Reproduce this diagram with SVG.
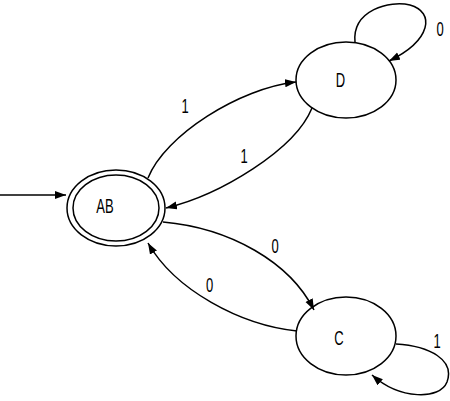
<svg xmlns="http://www.w3.org/2000/svg" width="450" height="401" viewBox="0 0 450 401">
<style>
.st{fill:none;stroke:#000;stroke-width:1.5}
.ed{fill:none;stroke:#000;stroke-width:1.5;marker-end:url(#ah)}
.lb{font-family:"Liberation Sans",Arial,sans-serif;font-size:20px;fill:#000;text-anchor:middle}
</style>
<defs>
<marker id="ah" markerUnits="userSpaceOnUse" markerWidth="12" markerHeight="10" refX="11" refY="4" orient="auto">
<path d="M0,0 L11,4 L0,8 Z" fill="#000"/>
</marker>
</defs>
<rect width="450" height="401" fill="#fff"/>
<g id="connectors">
<path class="ed" d="M0,195 L66,195"/>
<path class="ed" d="M148,178 C165,135 240,88 296,82"/>
<path class="ed" d="M312,108 C295,150 220,195 166,208"/>
<path class="ed" d="M163,222 C230,228 290,262 314,310"/>
<path class="ed" d="M297,331 C240,325 175,290 148,243"/>
<path class="ed" d="M355,42 C352,10 390,0 410,5 C435,12 432,40 389,61"/>
<path class="ed" d="M396,344 C430,346 455,360 447,382 C440,400 400,400 372,375"/>
</g>
<g id="edge-labels">
<text class="lb" transform="translate(185,113) scale(0.65,1)">1</text>
<text class="lb" transform="translate(244,163) scale(0.65,1)">1</text>
<text class="lb" transform="translate(275,253) scale(0.65,1)">0</text>
<text class="lb" transform="translate(209.5,292) scale(0.65,1)">0</text>
<text class="lb" transform="translate(440,36) scale(0.65,1)">0</text>
<text class="lb" transform="translate(437,348) scale(0.65,1)">1</text>
</g>
<g id="node-AB">
<ellipse class="st" cx="116" cy="208" rx="49" ry="38"/>
<ellipse class="st" cx="116" cy="208" rx="43" ry="33"/>
<text class="lb" transform="translate(105,213) scale(0.65,1)">AB</text>
</g>
<g id="node-D">
<ellipse class="st" cx="346" cy="80" rx="50" ry="38"/>
<text class="lb" transform="translate(340.5,87) scale(0.65,1)">D</text>
</g>
<g id="node-C">
<ellipse class="st" cx="346" cy="336" rx="50" ry="39"/>
<text class="lb" transform="translate(339,345) scale(0.65,1)">C</text>
</g>
</svg>
